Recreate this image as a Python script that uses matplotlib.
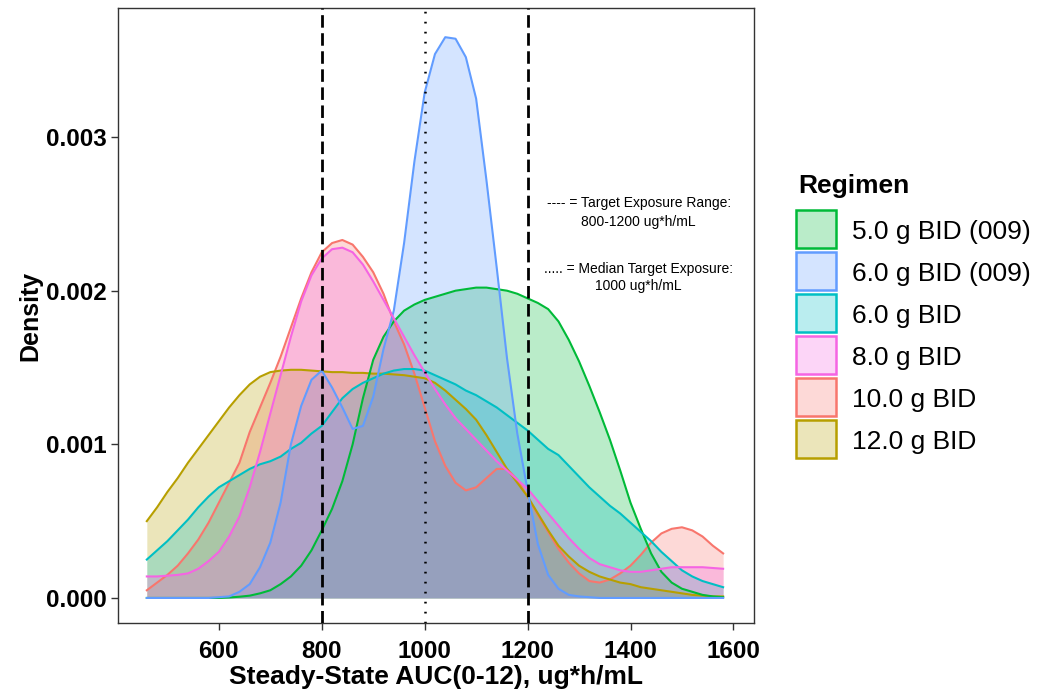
import numpy as np
import matplotlib.pyplot as plt
from matplotlib.patches import Rectangle
from matplotlib.colors import to_rgba

# ----------------------------- DATA ------------------------------------------
# AUC grid [ug*h/mL], densities (x 1e-3)
auc = [460, 480, 500, 520, 540, 560, 580, 600, 620, 640,
       660, 680, 700, 720, 740, 760, 780, 800, 820, 840,
       860, 880, 900, 920, 940, 960, 980, 1000, 1020, 1040,
       1060, 1080, 1100, 1120, 1140, 1160, 1180, 1200, 1220, 1240,
       1260, 1280, 1300, 1320, 1340, 1360, 1380, 1400, 1420, 1440,
       1460, 1480, 1500, 1520, 1540, 1560, 1580]

# legend order
regimens = ['5.0 g BID (009)', '6.0 g BID (009)', '6.0 g BID',
            '8.0 g BID', '10.0 g BID', '12.0 g BID']

dens_5g_009 = [0, 0, 0, 0, 0, 0, 0, 0, 0.003, 0.008,
               0.015, 0.03, 0.05, 0.09, 0.14, 0.21, 0.31, 0.44, 0.58, 0.76,
               1.00, 1.30, 1.55, 1.70, 1.80, 1.87, 1.91, 1.94, 1.96, 1.98,
               2.00, 2.01, 2.02, 2.02, 2.01, 2.00, 1.98, 1.95, 1.92, 1.88,
               1.80, 1.68, 1.54, 1.38, 1.21, 1.03, 0.83, 0.62, 0.45, 0.29,
               0.17, 0.10, 0.06, 0.04, 0.02, 0.01, 0.005]
dens_6g_009 = [0, 0, 0, 0, 0, 0, 0, 0.005, 0.01, 0.04,
               0.09, 0.20, 0.36, 0.62, 1.00, 1.25, 1.42, 1.48, 1.37, 1.24,
               1.10, 1.12, 1.31, 1.62, 1.87, 2.31, 2.84, 3.29, 3.54, 3.65,
               3.64, 3.52, 3.25, 2.72, 2.15, 1.56, 1.07, 0.70, 0.35, 0.15,
               0.06, 0.02, 0.01, 0.005, 0, 0, 0, 0, 0, 0,
               0, 0, 0, 0, 0, 0, 0]
dens_6g = [0.25, 0.31, 0.37, 0.44, 0.51, 0.59, 0.66, 0.72, 0.76, 0.80,
           0.84, 0.87, 0.89, 0.92, 0.97, 1.01, 1.07, 1.12, 1.21, 1.30,
           1.36, 1.40, 1.43, 1.46, 1.48, 1.49, 1.49, 1.48, 1.45, 1.42,
           1.39, 1.35, 1.32, 1.28, 1.24, 1.19, 1.14, 1.09, 1.03, 0.97,
           0.93, 0.86, 0.79, 0.72, 0.66, 0.60, 0.55, 0.49, 0.43, 0.37,
           0.30, 0.24, 0.18, 0.14, 0.11, 0.09, 0.07]
dens_8g = [0.14, 0.14, 0.145, 0.15, 0.16, 0.19, 0.24, 0.30, 0.40, 0.53,
           0.72, 0.95, 1.20, 1.45, 1.70, 1.93, 2.10, 2.21, 2.27, 2.28,
           2.25, 2.17, 2.06, 1.94, 1.82, 1.70, 1.58, 1.47, 1.36, 1.26,
           1.17, 1.10, 1.03, 0.96, 0.89, 0.83, 0.77, 0.71, 0.63, 0.55,
           0.47, 0.39, 0.32, 0.26, 0.22, 0.20, 0.18, 0.17, 0.17, 0.18,
           0.19, 0.20, 0.20, 0.20, 0.20, 0.195, 0.19]
dens_10g = [0.05, 0.10, 0.15, 0.21, 0.29, 0.38, 0.49, 0.62, 0.75, 0.88,
            1.08, 1.24, 1.40, 1.57, 1.76, 1.95, 2.12, 2.25, 2.31, 2.33,
            2.30, 2.22, 2.12, 1.98, 1.80, 1.65, 1.46, 1.24, 1.02, 0.86,
            0.75, 0.70, 0.72, 0.78, 0.84, 0.84, 0.77, 0.66, 0.54, 0.43,
            0.32, 0.23, 0.16, 0.11, 0.10, 0.12, 0.16, 0.21, 0.28, 0.36,
            0.42, 0.45, 0.46, 0.44, 0.40, 0.34, 0.29]
dens_12g = [0.50, 0.59, 0.69, 0.78, 0.88, 0.97, 1.06, 1.15, 1.24, 1.32,
            1.39, 1.44, 1.47, 1.48, 1.485, 1.485, 1.48, 1.475, 1.47, 1.47,
            1.465, 1.465, 1.46, 1.46, 1.455, 1.45, 1.44, 1.43, 1.40, 1.35,
            1.29, 1.23, 1.16, 1.06, 0.95, 0.84, 0.75, 0.66, 0.55, 0.44,
            0.34, 0.27, 0.21, 0.17, 0.14, 0.12, 0.10, 0.09, 0.07, 0.06,
            0.05, 0.04, 0.03, 0.02, 0.015, 0.01, 0.01]

colors = ['#00BA38', '#619CFF', '#00BFC4', '#F564E3', '#F8766D', '#B79F00']

# groups are drawn in alphabetical (factor) order, not legend order
draw_order = ['10.0 g BID', '12.0 g BID', '5.0 g BID (009)', '6.0 g BID',
              '6.0 g BID (009)', '8.0 g BID']

target_range = [800, 1200]
target_median = 1000
x_ticks = [600, 800, 1000, 1200, 1400, 1600]
y_ticks = [0.000, 0.001, 0.002, 0.003]

# ------------------------------ PLOTTING -------------------------------------
plt.rcParams['font.family'] = ['Liberation Sans', 'DejaVu Sans']

W, H = 1037, 698
fig = plt.figure(figsize=(W / 100, H / 100), dpi=100)
ax = fig.add_axes([118 / W, 1 - 623 / H, 636 / W, 615 / H])

x = np.array(auc)
all_dens = dict(zip(regimens, [dens_5g_009, dens_6g_009, dens_6g,
                               dens_8g, dens_10g, dens_12g]))
col_of = dict(zip(regimens, colors))
alpha = 0.27
for name in draw_order:
    y = np.array(all_dens[name]) * 1e-3
    c = col_of[name]
    ax.fill_between(x, 0, y, color=c, alpha=alpha, linewidth=0)
    ax.plot(x, y, color=c, lw=1.5)

for v in target_range:
    ax.axvline(v, color='black', lw=2, linestyle=(0, (4.5, 2)), zorder=5)
ax.axvline(target_median, color='black', lw=1.8, linestyle=(0, (0.7, 3.3)),
           zorder=5)

note_x = 1416
ax.text(note_x, 0.00257, '---- = Target Exposure Range:', ha='center',
        va='center', fontsize=10)
ax.text(note_x, 0.00245, '800-1200 ug*h/mL', ha='center', va='center',
        fontsize=10)
ax.text(note_x, 0.00214, '..... = Median Target Exposure:', ha='center',
        va='center', fontsize=10)
ax.text(note_x, 0.00203, '1000 ug*h/mL', ha='center', va='center',
        fontsize=10)

ax.set_xlim(404, 1640)
ax.set_ylim(-0.000163, 0.00384)
ax.set_xticks(x_ticks)
ax.set_yticks(y_ticks)
ax.set_yticklabels([f'{t:.3f}' for t in y_ticks])
ax.tick_params(labelsize=17.5, length=5, width=1, color='#333333')
ax.tick_params(axis='x', pad=7)
ax.tick_params(axis='y', pad=3)
for lab in ax.get_xticklabels() + ax.get_yticklabels():
    lab.set_fontweight('bold')
for s in ax.spines.values():
    s.set_color('#333333')
    s.set_linewidth(1)

ax.set_xlabel('Steady-State AUC(0-12), ug*h/mL', fontsize=19,
              fontweight='bold')
ax.xaxis.set_label_coords(0.5, -(665 - 623) / 615)
ax.set_ylabel('Density', fontsize=18, fontweight='bold')
ax.yaxis.set_label_coords(-(118 - 42) / 636, 0.5)

# legend drawn by hand (ggplot-style square keys)
fig.text(798 / W, 1 - 193 / H, 'Regimen', fontsize=19, fontweight='bold',
         ha='left', va='baseline')
for i, (name, c) in enumerate(zip(regimens, colors)):
    top = 210 + 42 * i
    fig.add_artist(Rectangle((796 / W, 1 - (top + 38) / H), 40 / W, 38 / H,
                             transform=fig.transFigure,
                             facecolor=to_rgba(c, alpha), edgecolor=c,
                             linewidth=1.8))
    fig.text(852 / W, 1 - (top + 29) / H, name, fontsize=19,
             ha='left', va='baseline')

fig.savefig('out.png', dpi=100)
